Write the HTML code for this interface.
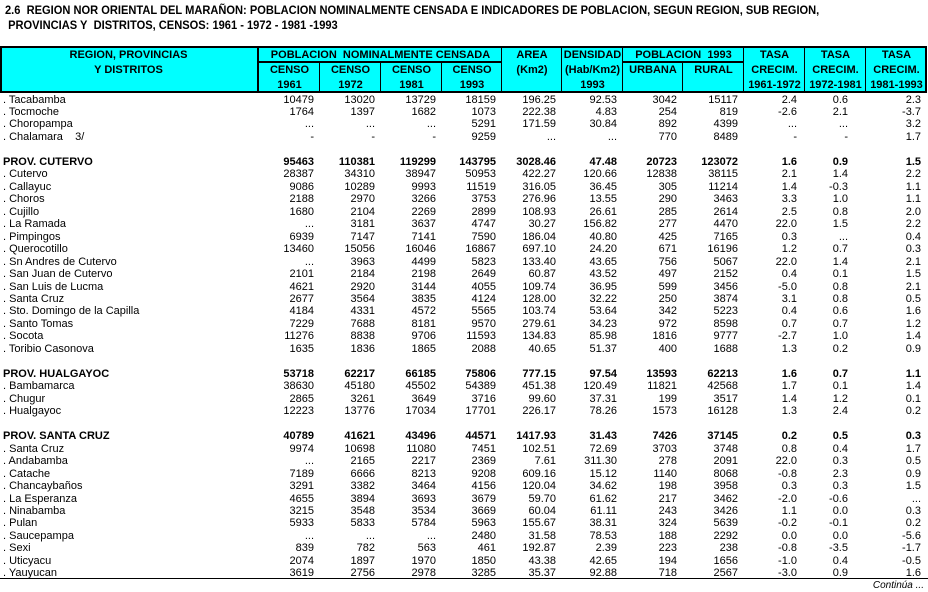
<!DOCTYPE html>
<html><head><meta charset="utf-8"><style>
*{margin:0;padding:0;box-sizing:border-box}
body{width:928px;height:592px;background:#fff;position:relative;overflow:hidden;font-family:"Liberation Sans",Arial,sans-serif;color:#000}
.t{position:absolute;font-weight:bold;font-size:12px;left:5px;white-space:nowrap;transform:scaleX(0.925);transform-origin:0 0}
#hd{position:absolute;left:0;top:46px;width:927px;height:47px;background:#00ffff;border:2px solid #000}
.l{position:absolute;background:#000}
.h{position:absolute;font-weight:bold;font-size:11px;text-align:center;white-space:nowrap;line-height:15px}
table{position:absolute;left:0;top:93.5px;border-collapse:collapse;table-layout:fixed;font-size:11px}
td{height:12.47px;line-height:12.47px;padding:0 6px 0 0;text-align:right;white-space:nowrap;overflow:visible}
td:first-child{text-align:left;padding-left:3px}
td:nth-child(10){padding-right:8px}
td:nth-child(11){padding-right:18px}
td:nth-child(12){padding-right:5px}
tr.b td{font-weight:bold}
</style></head><body>
<div class="t" style="top:3px">2.6&nbsp; REGION NOR ORIENTAL DEL MARAÑON: POBLACION NOMINALMENTE CENSADA E INDICADORES DE POBLACION, SEGUN REGION, SUB REGION,</div>
<div class="t" style="top:18px">&nbsp;PROVINCIAS Y&nbsp; DISTRITOS, CENSOS: 1961 - 1972 - 1981 -1993</div>
<div id="hd"></div>
<div class="l" style="left:257px;top:46px;width:2px;height:47px"></div>
<div class="l" style="left:259px;top:61px;width:243px;height:2px"></div>
<div class="l" style="left:623px;top:61px;width:121px;height:2px"></div>
<div class="l" style="left:319px;top:62px;width:1px;height:31px"></div>
<div class="l" style="left:380px;top:62px;width:1px;height:31px"></div>
<div class="l" style="left:441px;top:62px;width:1px;height:31px"></div>
<div class="l" style="left:501px;top:46px;width:1px;height:47px"></div>
<div class="l" style="left:561px;top:46px;width:1px;height:47px"></div>
<div class="l" style="left:622px;top:46px;width:1px;height:47px"></div>
<div class="l" style="left:682px;top:62px;width:1px;height:31px"></div>
<div class="l" style="left:743px;top:46px;width:1px;height:47px"></div>
<div class="l" style="left:804px;top:46px;width:1px;height:47px"></div>
<div class="l" style="left:865px;top:46px;width:1px;height:47px"></div>
<div class="h" style="left:0;width:257px;top:48px">REGION, PROVINCIAS</div>
<div class="h" style="left:0;width:257px;top:63px">Y DISTRITOS</div>
<div class="h" style="left:259px;width:243px;top:48px">POBLACION&nbsp; NOMINALMENTE CENSADA</div>
<div class="h" style="left:259px;width:61px;top:63px">CENSO<br>1961</div>
<div class="h" style="left:320px;width:61px;top:63px">CENSO<br>1972</div>
<div class="h" style="left:381px;width:61px;top:63px">CENSO<br>1981</div>
<div class="h" style="left:442px;width:60px;top:63px">CENSO<br>1993</div>
<div class="h" style="left:502px;width:60px;top:48px">AREA<br>(Km2)</div>
<div class="h" style="left:562px;width:61px;top:48px">DENSIDAD<br>(Hab/Km2)<br>1993</div>
<div class="h" style="left:623px;width:121px;top:48px">POBLACION&nbsp; 1993</div>
<div class="h" style="left:623px;width:60px;top:63px">URBANA</div>
<div class="h" style="left:683px;width:61px;top:63px">RURAL</div>
<div class="h" style="left:744px;width:61px;top:48px">TASA<br>CRECIM.<br>1961-1972</div>
<div class="h" style="left:805px;width:61px;top:48px">TASA<br>CRECIM.<br>1972-1981</div>
<div class="h" style="left:866px;width:61px;top:48px">TASA<br>CRECIM.<br>1981-1993</div>
<table>
<colgroup><col style="width:259px"><col style="width:61px"><col style="width:61px"><col style="width:61px"><col style="width:60px"><col style="width:60px"><col style="width:61px"><col style="width:60px"><col style="width:61px"><col style="width:61px"><col style="width:61px"><col style="width:60px"></colgroup>
<tr><td>. Tacabamba</td><td>10479</td><td>13020</td><td>13729</td><td>18159</td><td>196.25</td><td>92.53</td><td>3042</td><td>15117</td><td>2.4</td><td>0.6</td><td>2.3</td></tr>
<tr><td>. Tocmoche</td><td>1764</td><td>1397</td><td>1682</td><td>1073</td><td>222.38</td><td>4.83</td><td>254</td><td>819</td><td>-2.6</td><td>2.1</td><td>-3.7</td></tr>
<tr><td>. Choropampa</td><td>...</td><td>...</td><td>...</td><td>5291</td><td>171.59</td><td>30.84</td><td>892</td><td>4399</td><td>...</td><td>...</td><td>3.2</td></tr>
<tr><td>. Chalamara&nbsp;&nbsp;&nbsp; 3/</td><td>-</td><td>-</td><td>-</td><td>9259</td><td>...</td><td>...</td><td>770</td><td>8489</td><td>-</td><td>-</td><td>1.7</td></tr>
<tr><td></td><td></td><td></td><td></td><td></td><td></td><td></td><td></td><td></td><td></td><td></td><td></td></tr>
<tr class="b"><td>PROV. CUTERVO</td><td>95463</td><td>110381</td><td>119299</td><td>143795</td><td>3028.46</td><td>47.48</td><td>20723</td><td>123072</td><td>1.6</td><td>0.9</td><td>1.5</td></tr>
<tr><td>. Cutervo</td><td>28387</td><td>34310</td><td>38947</td><td>50953</td><td>422.27</td><td>120.66</td><td>12838</td><td>38115</td><td>2.1</td><td>1.4</td><td>2.2</td></tr>
<tr><td>. Callayuc</td><td>9086</td><td>10289</td><td>9993</td><td>11519</td><td>316.05</td><td>36.45</td><td>305</td><td>11214</td><td>1.4</td><td>-0.3</td><td>1.1</td></tr>
<tr><td>. Choros</td><td>2188</td><td>2970</td><td>3266</td><td>3753</td><td>276.96</td><td>13.55</td><td>290</td><td>3463</td><td>3.3</td><td>1.0</td><td>1.1</td></tr>
<tr><td>. Cujillo</td><td>1680</td><td>2104</td><td>2269</td><td>2899</td><td>108.93</td><td>26.61</td><td>285</td><td>2614</td><td>2.5</td><td>0.8</td><td>2.0</td></tr>
<tr><td>. La Ramada</td><td>...</td><td>3181</td><td>3637</td><td>4747</td><td>30.27</td><td>156.82</td><td>277</td><td>4470</td><td>22.0</td><td>1.5</td><td>2.2</td></tr>
<tr><td>. Pimpingos</td><td>6939</td><td>7147</td><td>7141</td><td>7590</td><td>186.04</td><td>40.80</td><td>425</td><td>7165</td><td>0.3</td><td>...</td><td>0.4</td></tr>
<tr><td>. Querocotillo</td><td>13460</td><td>15056</td><td>16046</td><td>16867</td><td>697.10</td><td>24.20</td><td>671</td><td>16196</td><td>1.2</td><td>0.7</td><td>0.3</td></tr>
<tr><td>. Sn Andres de Cutervo</td><td>...</td><td>3963</td><td>4499</td><td>5823</td><td>133.40</td><td>43.65</td><td>756</td><td>5067</td><td>22.0</td><td>1.4</td><td>2.1</td></tr>
<tr><td>. San Juan de Cutervo</td><td>2101</td><td>2184</td><td>2198</td><td>2649</td><td>60.87</td><td>43.52</td><td>497</td><td>2152</td><td>0.4</td><td>0.1</td><td>1.5</td></tr>
<tr><td>. San Luis de Lucma</td><td>4621</td><td>2920</td><td>3144</td><td>4055</td><td>109.74</td><td>36.95</td><td>599</td><td>3456</td><td>-5.0</td><td>0.8</td><td>2.1</td></tr>
<tr><td>. Santa Cruz</td><td>2677</td><td>3564</td><td>3835</td><td>4124</td><td>128.00</td><td>32.22</td><td>250</td><td>3874</td><td>3.1</td><td>0.8</td><td>0.5</td></tr>
<tr><td>. Sto. Domingo de la Capilla</td><td>4184</td><td>4331</td><td>4572</td><td>5565</td><td>103.74</td><td>53.64</td><td>342</td><td>5223</td><td>0.4</td><td>0.6</td><td>1.6</td></tr>
<tr><td>. Santo Tomas</td><td>7229</td><td>7688</td><td>8181</td><td>9570</td><td>279.61</td><td>34.23</td><td>972</td><td>8598</td><td>0.7</td><td>0.7</td><td>1.2</td></tr>
<tr><td>. Socota</td><td>11276</td><td>8838</td><td>9706</td><td>11593</td><td>134.83</td><td>85.98</td><td>1816</td><td>9777</td><td>-2.7</td><td>1.0</td><td>1.4</td></tr>
<tr><td>. Toribio Casonova</td><td>1635</td><td>1836</td><td>1865</td><td>2088</td><td>40.65</td><td>51.37</td><td>400</td><td>1688</td><td>1.3</td><td>0.2</td><td>0.9</td></tr>
<tr><td></td><td></td><td></td><td></td><td></td><td></td><td></td><td></td><td></td><td></td><td></td><td></td></tr>
<tr class="b"><td>PROV. HUALGAYOC</td><td>53718</td><td>62217</td><td>66185</td><td>75806</td><td>777.15</td><td>97.54</td><td>13593</td><td>62213</td><td>1.6</td><td>0.7</td><td>1.1</td></tr>
<tr><td>. Bambamarca</td><td>38630</td><td>45180</td><td>45502</td><td>54389</td><td>451.38</td><td>120.49</td><td>11821</td><td>42568</td><td>1.7</td><td>0.1</td><td>1.4</td></tr>
<tr><td>. Chugur</td><td>2865</td><td>3261</td><td>3649</td><td>3716</td><td>99.60</td><td>37.31</td><td>199</td><td>3517</td><td>1.4</td><td>1.2</td><td>0.1</td></tr>
<tr><td>. Hualgayoc</td><td>12223</td><td>13776</td><td>17034</td><td>17701</td><td>226.17</td><td>78.26</td><td>1573</td><td>16128</td><td>1.3</td><td>2.4</td><td>0.2</td></tr>
<tr><td></td><td></td><td></td><td></td><td></td><td></td><td></td><td></td><td></td><td></td><td></td><td></td></tr>
<tr class="b"><td>PROV. SANTA CRUZ</td><td>40789</td><td>41621</td><td>43496</td><td>44571</td><td>1417.93</td><td>31.43</td><td>7426</td><td>37145</td><td>0.2</td><td>0.5</td><td>0.3</td></tr>
<tr><td>. Santa Cruz</td><td>9974</td><td>10698</td><td>11080</td><td>7451</td><td>102.51</td><td>72.69</td><td>3703</td><td>3748</td><td>0.8</td><td>0.4</td><td>1.7</td></tr>
<tr><td>. Andabamba</td><td>...</td><td>2165</td><td>2217</td><td>2369</td><td>7.61</td><td>311.30</td><td>278</td><td>2091</td><td>22.0</td><td>0.3</td><td>0.5</td></tr>
<tr><td>. Catache</td><td>7189</td><td>6666</td><td>8213</td><td>9208</td><td>609.16</td><td>15.12</td><td>1140</td><td>8068</td><td>-0.8</td><td>2.3</td><td>0.9</td></tr>
<tr><td>. Chancaybaños</td><td>3291</td><td>3382</td><td>3464</td><td>4156</td><td>120.04</td><td>34.62</td><td>198</td><td>3958</td><td>0.3</td><td>0.3</td><td>1.5</td></tr>
<tr><td>. La Esperanza</td><td>4655</td><td>3894</td><td>3693</td><td>3679</td><td>59.70</td><td>61.62</td><td>217</td><td>3462</td><td>-2.0</td><td>-0.6</td><td>...</td></tr>
<tr><td>. Ninabamba</td><td>3215</td><td>3548</td><td>3534</td><td>3669</td><td>60.04</td><td>61.11</td><td>243</td><td>3426</td><td>1.1</td><td>0.0</td><td>0.3</td></tr>
<tr><td>. Pulan</td><td>5933</td><td>5833</td><td>5784</td><td>5963</td><td>155.67</td><td>38.31</td><td>324</td><td>5639</td><td>-0.2</td><td>-0.1</td><td>0.2</td></tr>
<tr><td>. Saucepampa</td><td>...</td><td>...</td><td>...</td><td>2480</td><td>31.58</td><td>78.53</td><td>188</td><td>2292</td><td>0.0</td><td>0.0</td><td>-5.6</td></tr>
<tr><td>. Sexi</td><td>839</td><td>782</td><td>563</td><td>461</td><td>192.87</td><td>2.39</td><td>223</td><td>238</td><td>-0.8</td><td>-3.5</td><td>-1.7</td></tr>
<tr><td>. Uticyacu</td><td>2074</td><td>1897</td><td>1970</td><td>1850</td><td>43.38</td><td>42.65</td><td>194</td><td>1656</td><td>-1.0</td><td>0.4</td><td>-0.5</td></tr>
<tr><td>. Yauyucan</td><td>3619</td><td>2756</td><td>2978</td><td>3285</td><td>35.37</td><td>92.88</td><td>718</td><td>2567</td><td>-3.0</td><td>0.9</td><td>1.6</td></tr>
</table>
<div class="l" style="left:0;top:578px;width:928px;height:1px"></div>
<div style="position:absolute;right:4px;top:580px;font-size:10px;font-style:italic">Continúa ...</div>
</body></html>
